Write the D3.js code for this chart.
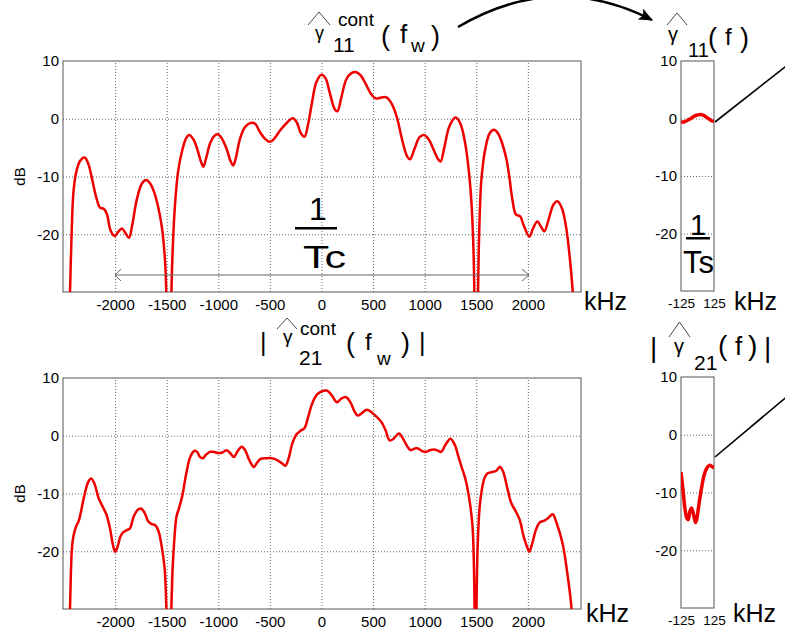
<!DOCTYPE html>
<html>
<head>
<meta charset="utf-8">
<script src="https://cdn.jsdelivr.net/npm/d3@7"></script>
<style>
  body { margin: 0; background: #fff; }
  text { font-family: "Liberation Sans", Arial, Helvetica, sans-serif; fill: #000; }
</style>
</head>
<body>
<div id="chart"></div>
<script>
// ---- data ----
// |gamma11 cont| (top, wide band), kHz / dB
const g11Freq = [-2450,-2437,-2420,-2405,-2380,-2340,-2295,-2260,-2226,-2180,-2146,-2110,-2080,-2045,-2005,-1970,-1935,-1900,-1865,-1835,-1790,-1740,-1700,-1660,-1620,-1580,-1545,-1515,-1495,-1478,-1462,-1445,-1420,-1390,-1350,-1310,-1283,-1240,-1200,-1165,-1145,-1120,-1080,-1040,-1005,-970,-920,-880,-855,-830,-790,-740,-680,-640,-600,-540,-500,-460,-400,-330,-278,-240,-200,-165,-130,-90,-50,0,40,80,130,155,190,240,290,335,380,430,480,530,580,630,680,730,780,830,858,900,950,995,1040,1090,1130,1155,1190,1240,1300,1345,1390,1430,1455,1475,1490,1500,1512,1528,1550,1590,1630,1672,1710,1750,1790,1820,1850,1885,1925,1960,2015,2050,2092,2125,2160,2200,2250,2288,2330,2370,2400,2435,2450];
const g11Db   = [-40,-30,-19,-13,-9.5,-7.3,-6.7,-7.8,-10.2,-13.8,-15.4,-15.6,-16.5,-19.3,-20.3,-19.6,-19.0,-19.8,-20.6,-18.5,-14,-11.2,-10.6,-11.2,-12.8,-15.5,-19,-25,-36,-45,-36,-24,-15,-9.2,-5.5,-3.3,-2.8,-3.6,-5.5,-7.6,-8.3,-7,-4.3,-3,-2.7,-3.3,-5.2,-7.4,-8.1,-6.8,-3.5,-1.4,-0.7,-0.9,-2.2,-3.6,-4.0,-3.5,-2,-0.6,0.1,-0.6,-2.5,-3.1,-1,3,6.3,7.6,7,4.5,1.6,1.3,3.5,6.8,7.9,8.1,7.5,6,4.3,3.5,3.7,3.7,2.6,0.3,-3.5,-6.5,-7.0,-5.3,-3.2,-2.8,-3.6,-5.5,-7,-7.4,-5,-1.3,0.2,-0.8,-4,-9.4,-15,-24,-40,-45,-36,-20,-10.5,-5,-2.5,-1.9,-2.5,-4.2,-6.8,-10,-14,-16.6,-16.9,-18.5,-20.4,-19,-17.8,-18.6,-19.5,-17.5,-14.8,-14.3,-15.5,-18.7,-23,-30,-36];

// |gamma21 cont| (bottom, wide band)
const g21Freq = [-2450,-2437,-2420,-2405,-2380,-2350,-2300,-2260,-2232,-2200,-2160,-2120,-2085,-2050,-2020,-2000,-1975,-1950,-1920,-1880,-1855,-1820,-1780,-1750,-1715,-1680,-1645,-1610,-1580,-1550,-1520,-1500,-1482,-1465,-1445,-1430,-1405,-1380,-1350,-1310,-1270,-1230,-1205,-1180,-1150,-1120,-1080,-1040,-1000,-960,-920,-880,-850,-810,-772,-740,-700,-655,-630,-590,-540,-480,-430,-380,-350,-320,-280,-240,-200,-165,-130,-90,-40,20,55,100,150,190,235,280,320,350,390,440,490,540,580,620,660,700,750,790,830,865,905,935,970,1010,1050,1090,1130,1160,1200,1250,1290,1330,1360,1395,1420,1445,1465,1480,1490,1500,1512,1530,1550,1580,1610,1650,1690,1730,1760,1800,1840,1880,1920,1960,2000,2013,2040,2080,2115,2160,2200,2240,2280,2337,2380,2424,2440];
const g21Db   = [-40,-30,-20,-17.5,-15.8,-14.6,-10.5,-8,-7.4,-8.3,-10.8,-12.3,-13.6,-16,-19,-20.1,-19.2,-17.5,-16.7,-16.3,-16.0,-14,-12.8,-12.6,-13.3,-14.8,-15.3,-15.5,-16.5,-19,-23,-32,-45,-36,-24,-19,-14,-12.5,-10.5,-6.5,-3.6,-2.6,-2.8,-3.6,-3.9,-3.3,-2.8,-2.8,-3.0,-2.9,-2.5,-3.1,-3.7,-2.6,-1.9,-2.5,-4.2,-5.4,-4.8,-4.0,-3.9,-3.9,-4.2,-4.8,-5.2,-4,-1.2,0.3,0.9,1.3,3.2,5.6,7.2,7.8,7.8,7,5.8,6.4,6.7,5.8,4.2,3.5,3.9,4.5,4,3.2,2.4,1,-0.8,-0.5,0.4,-0.5,-1.8,-2.5,-2.2,-2.2,-2.6,-2.8,-2.5,-2.4,-2.6,-2.8,-1.6,-0.5,-1.5,-3.8,-5.5,-7.5,-9.6,-12.5,-16,-25,-40,-32,-20,-13,-9.8,-7.3,-6.5,-6.3,-6.1,-5.4,-6.2,-9,-11.7,-13,-14.5,-17.5,-19.6,-20.1,-18.8,-16.2,-15,-14.7,-14.2,-13.6,-15.2,-18.7,-23.5,-30,-36];

// gamma11(f) (top, narrow band)
const s11Freq = [-125,-100,-75,-50,-25,0,25,50,75,100,125];
const s11Db   = [-0.6,-0.6,-0.3,0.0,0.4,0.6,0.7,0.5,0.1,-0.3,-0.5];

// |gamma21(f)| (bottom, narrow band)
const s21Freq = [-125,-110,-95,-80,-70,-58,-45,-30,-15,-5,10,30,50,70,90,110,125];
const s21Db   = [-6.5,-9.5,-12.8,-14.5,-14.7,-13.3,-12.7,-13.8,-15.2,-14.5,-12.2,-9.3,-7,-5.8,-5.3,-5.5,-5.8];

// tick labels
const mainXTicks = [-2000,-1500,-1000,-500,0,500,1000,1500,2000];
const smallXTicks = [-125,125];
const yTicks = [-20,-10,0,10];
const yGrid = [-20,-10,0];

const W = 785, H = 632;
const svg = d3.select("#chart").append("svg")
    .attr("width", W).attr("height", H)
    .attr("viewBox", [0, 0, W, H]);

svg.append("rect").attr("width", W).attr("height", H).attr("fill", "#fff");

const defs = svg.append("defs");
defs.append("marker")
    .attr("id", "head")
    .attr("viewBox", "0 0 14 12")
    .attr("refX", 13).attr("refY", 6)
    .attr("markerWidth", 14).attr("markerHeight", 12)
    .attr("markerUnits", "userSpaceOnUse")
    .attr("orient", "auto")
  .append("path")
    .attr("d", "M0,0 L14,6 L0,12 L3,6 Z")
    .attr("fill", "#000");

const line = d3.line().curve(d3.curveCatmullRom.alpha(0.5));
const fmt = d => String(d);

let clipId = 0;
function panel(o) {
  const x = d3.scaleLinear().domain(o.xDomain).range([o.left, o.right]);
  const y = d3.scaleLinear().domain([-30, 10]).range([o.bottom, o.top]);
  const g = svg.append("g");

  // grid
  if (o.xGrid) {
    g.append("g")
      .attr("transform", `translate(0,${o.bottom})`)
      .call(d3.axisBottom(x).tickValues(o.xGrid).tickSize(o.top - o.bottom).tickFormat(""))
      .call(a => a.select(".domain").remove())
      .selectAll("line").attr("stroke", "#666").attr("stroke-dasharray", "1,2");
  }
  g.append("g")
    .attr("transform", `translate(${o.left},0)`)
    .call(d3.axisLeft(y).tickValues(yGrid).tickSize(o.left - o.right).tickFormat(""))
    .call(a => a.select(".domain").remove())
    .selectAll("line").attr("stroke", "#666").attr("stroke-dasharray", "1,2");

  // frame
  g.append("rect")
    .attr("x", o.left).attr("y", o.top)
    .attr("width", o.right - o.left).attr("height", o.bottom - o.top)
    .attr("fill", "none").attr("stroke", "#555").attr("stroke-width", 1);

  // tick labels
  const ya = g.append("g")
    .attr("transform", `translate(${o.left - 4},0)`)
    .call(d3.axisLeft(y).tickValues(yTicks).tickSize(0).tickPadding(0).tickFormat(fmt));
  ya.select(".domain").remove();
  ya.selectAll("text").attr("font-size", 15).attr("font-family", "Liberation Sans, Arial, sans-serif");

  const xa = g.append("g")
    .attr("transform", `translate(0,${o.bottom + 7})`)
    .call(d3.axisBottom(x).tickValues(o.xTicks).tickSize(0).tickPadding(0).tickFormat(fmt));
  xa.select(".domain").remove();
  xa.selectAll("text").attr("font-size", o.xFont).attr("font-family", "Liberation Sans, Arial, sans-serif");

  // curve
  const id = "clip" + (clipId++);
  defs.append("clipPath").attr("id", id)
    .append("rect").attr("x", o.left).attr("y", o.top)
    .attr("width", o.right - o.left).attr("height", o.bottom - o.top);
  const pts = o.freq.map((f, i) => [x(f), y(o.db[i])]);
  g.append("path")
    .attr("clip-path", `url(#${id})`)
    .attr("d", line(pts))
    .attr("fill", "none")
    .attr("stroke", "#ee0000")
    .attr("stroke-width", o.lw)
    .attr("stroke-linejoin", "round");

  if (o.dB) {
    svg.append("text")
      .attr("transform", `translate(25,${(o.top + o.bottom) / 2}) rotate(-90)`)
      .attr("text-anchor", "middle")
      .attr("font-size", 15)
      .text("dB");
  }
  return { x, y };
}

const mainDomain = [-2505, 2515];
panel({ left: 63, right: 581, top: 61, bottom: 292, xDomain: mainDomain, xTicks: mainXTicks, xGrid: mainXTicks, xFont: 15, freq: g11Freq, db: g11Db, lw: 2.5, dB: true });
panel({ left: 63, right: 581, top: 378, bottom: 609, xDomain: mainDomain, xTicks: mainXTicks, xGrid: mainXTicks, xFont: 15, freq: g21Freq, db: g21Db, lw: 2.5, dB: true });
panel({ left: 681, right: 714, top: 61, bottom: 291, xDomain: [-125, 125], xTicks: smallXTicks, xGrid: null, xFont: 13.5, freq: s11Freq, db: s11Db, lw: 3.5 });
panel({ left: 681, right: 714, top: 377, bottom: 608, xDomain: [-125, 125], xTicks: smallXTicks, xGrid: null, xFont: 13.5, freq: s21Freq, db: s21Db, lw: 3.5 });

// ---- annotations ----
function txt(x, y, s, size, extra) {
  const t = svg.append("text").attr("x", x).attr("y", y).attr("font-size", size).text(s);
  if (extra) extra(t);
  return t;
}
function hat(x0, yb, w, h) {
  svg.append("path")
    .attr("d", `M${x0},${yb} L${x0 + w / 2},${yb - h} L${x0 + w},${yb}`)
    .attr("fill", "none").attr("stroke", "#333").attr("stroke-width", 0.9);
}

// top wide title
hat(308, 25, 22, 13);
txt(315, 39, "γ", 18);
txt(338, 26, "cont", 19);
txt(333, 52, "11", 21);
txt(381, 45, "(", 27);
txt(400, 43, "f", 26);
txt(411, 52, "w", 19);
txt(431, 45, ")", 27);

// bottom wide title
txt(260, 351, "|", 25);
hat(277, 329, 20, 11);
txt(283, 343, "γ", 19);
txt(300, 335, "cont", 19);
txt(299, 365, "21", 21);
txt(346, 352, "(", 27);
txt(365, 350, "f", 24);
txt(377, 365, "w", 19);
txt(401, 352, ")", 27);
txt(419, 351, "|", 25);

// top narrow title
hat(667, 25, 20, 12);
txt(668, 41, "γ", 20);
txt(688, 57, "11", 20);
txt(708, 47, "(", 27);
txt(725, 45, "f", 24);
txt(740, 47, ")", 27);

// bottom narrow title
txt(650, 357, "|", 28);
hat(669, 337, 21, 15);
txt(674, 353, "γ", 20);
txt(694, 370, "21", 21);
txt(718, 355, "(", 28);
txt(735, 355, "f", 26);
txt(748, 355, ")", 28);
txt(764, 357, "|", 28);

// kHz labels
txt(584, 310, "kHz", 25);
txt(734, 310, "kHz", 25);
txt(586, 622, "kHz", 25);
txt(733, 622, "kHz", 25);

// 1 / Tc
txt(318, 220, "1", 32, t => t.attr("text-anchor", "middle"));
svg.append("rect").attr("x", 295).attr("y", 227).attr("width", 42).attr("height", 2.5).attr("fill", "#000");
txt(303, 268, "Tc", 31, t => t.attr("textLength", 43).attr("lengthAdjust", "spacingAndGlyphs"));

// 1 / Ts
txt(698, 235, "1", 29, t => t.attr("text-anchor", "middle"));
svg.append("rect").attr("x", 686).attr("y", 237).attr("width", 24).attr("height", 2.5).attr("fill", "#000");
txt(683, 273, "Ts", 31, t => t.attr("textLength", 31).attr("lengthAdjust", "spacingAndGlyphs"));

// double-headed arrow (chip rate span)
const ax0 = 115, ax1 = 529, ay = 275;
svg.append("path")
  .attr("d", `M${ax0},${ay} L${ax1},${ay} M${ax0 + 6},${ay - 6} L${ax0},${ay} L${ax0 + 6},${ay + 6} M${ax1 - 7},${ay - 6} L${ax1},${ay} L${ax1 - 7},${ay + 6}`)
  .attr("fill", "none").attr("stroke", "#666").attr("stroke-width", 1);

// curved arrow from wide to narrow title
svg.append("path")
  .attr("d", "M458,27 Q555,-30 652,20")
  .attr("fill", "none").attr("stroke", "#000").attr("stroke-width", 2.4)
  .attr("marker-end", "url(#head)");

// lines leaving the narrow panels to the right
svg.append("line").attr("x1", 715).attr("y1", 122).attr("x2", 790).attr("y2", 63)
  .attr("stroke", "#000").attr("stroke-width", 1.6);
svg.append("line").attr("x1", 715).attr("y1", 457).attr("x2", 790).attr("y2", 394)
  .attr("stroke", "#000").attr("stroke-width", 1.6);
</script>
</body>
</html>
